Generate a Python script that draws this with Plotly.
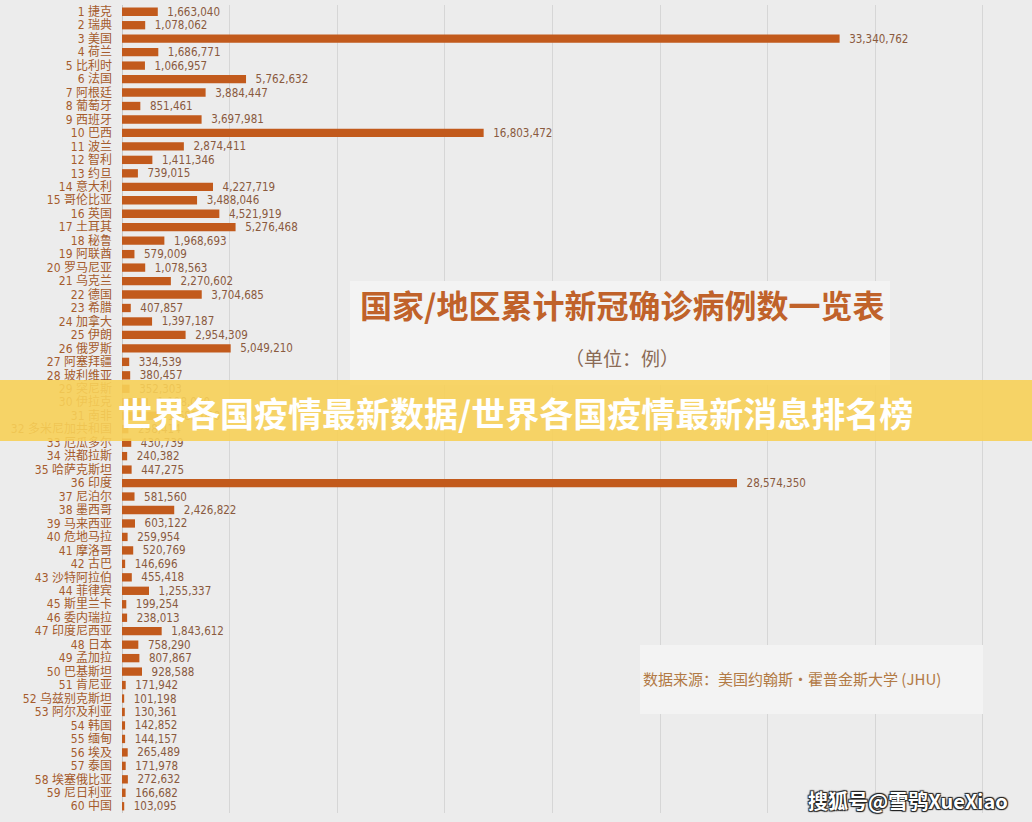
import plotly.graph_objects as go

countries = ["捷克", "瑞典", "美国", "荷兰", "比利时", "法国", "阿根廷", "葡萄牙", "西班牙", "巴西",
             "波兰", "智利", "约旦", "意大利", "哥伦比亚", "英国", "土耳其", "秘鲁", "阿联酋", "罗马尼亚",
             "乌克兰", "德国", "希腊", "加拿大", "伊朗", "俄罗斯", "阿塞拜疆", "玻利维亚", "突尼斯", "伊拉克",
             "南非", "多米尼加共和国", "厄瓜多尔", "洪都拉斯", "哈萨克斯坦", "印度", "尼泊尔", "墨西哥", "马来西亚", "危地马拉",
             "摩洛哥", "古巴", "沙特阿拉伯", "菲律宾", "斯里兰卡", "委内瑞拉", "印度尼西亚", "日本", "孟加拉", "巴基斯坦",
             "肯尼亚", "乌兹别克斯坦", "阿尔及利亚", "韩国", "缅甸", "埃及", "泰国", "埃塞俄比亚", "尼日利亚", "中国"]

cases = [1663040, 1078062, 33340762, 1686771, 1066957, 5762632, 3884447, 851461, 3697981, 16803472,
         2874411, 1411346, 739015, 4227719, 3488046, 4521919, 5276468, 1968693, 579009, 1078563,
         2270602, 3704685, 407857, 1397187, 2954309, 5049210, 334539, 380457, 352303, 1198000,
         1682000, 298414, 430739, 240382, 447275, 28574350, 581560, 2426822, 603122, 259954,
         520769, 146696, 455418, 1255337, 199254, 238013, 1843612, 758290, 807867, 928588,
         171942, 101198, 130361, 142852, 144157, 265489, 171978, 272632, 166682, 103095]

labels = [f"{i + 1} {c}" for i, c in enumerate(countries)]
value_text = [f"{v:,}" for v in cases]

BAR = "#c25a1c"
LABEL = "#a55b2c"
VALUE = "#8a5a3e"
NARROW = "Liberation Sans Narrow, DejaVu Sans Condensed, Noto Sans CJK SC"

fig = go.Figure(go.Bar(
    x=cases, y=labels, orientation="h",
    marker=dict(color=BAR, line=dict(width=0)),
    width=0.62,
    text=value_text, textposition="outside", cliponaxis=False,
    constraintext="none",
    texttemplate="  %{text}",
    textfont=dict(family=NARROW, size=11.5, color=VALUE),
))

fig.update_layout(
    width=1032, height=822,
    margin=dict(l=122, r=0, t=5, b=9),
    paper_bgcolor="#ececec", plot_bgcolor="#ececec",
    showlegend=False,
    xaxis=dict(range=[0, 42280000], dtick=5000000, showticklabels=False,
               showgrid=True, gridcolor="#d6d6d6", gridwidth=1,
               zeroline=True, zerolinecolor="#c8c8c8", zerolinewidth=1, fixedrange=True),
    yaxis=dict(autorange="reversed", type="category", showgrid=False,
               tickmode="array", tickvals=labels, ticktext=labels,
               tickfont=dict(family=NARROW, size=12, color=LABEL),
               ticks="", ticklabelstandoff=9, fixedrange=True),
)

def py(y):
    return (822 - 9 - y) / 808

def px(x):
    return (x - 122) / 910

# title box
fig.add_shape(type="rect", xref="paper", yref="paper",
              x0=px(350), x1=px(890), y0=py(385), y1=py(281),
              fillcolor="#f3f3f3", line=dict(width=0), layer="above")
# source box
fig.add_shape(type="rect", xref="paper", yref="paper",
              x0=px(640), x1=px(983), y0=py(714), y1=py(645),
              fillcolor="#f3f3f3", line=dict(width=0), layer="above")
# banner
fig.add_shape(type="rect", xref="paper", yref="paper",
              x0=px(0), x1=1.0, y0=py(441), y1=py(380),
              fillcolor="rgba(247,208,88,0.9)", line=dict(width=0), layer="above")

fig.add_annotation(text="<b>国家/地区累计新冠确诊病例数一览表</b>", xref="paper", yref="paper",
                   x=px(622), y=py(304), showarrow=False, xanchor="center", yanchor="middle",
                   font=dict(family="Noto Sans CJK SC", size=32, color="#c0622a"))
fig.add_annotation(text="（单位：例）", xref="paper", yref="paper",
                   x=px(622), y=py(357), showarrow=False, xanchor="center", yanchor="middle",
                   font=dict(family="Noto Sans CJK SC", size=19, color="#8a6a55"))
fig.add_annotation(text="数据来源：美国约翰斯·霍普金斯大学 (JHU)", xref="paper", yref="paper",
                   x=px(641), y=py(678), showarrow=False, xanchor="left", yanchor="middle",
                   font=dict(family="Noto Sans CJK SC", size=15, color="#b27a45"))
fig.add_annotation(text="<b>世界各国疫情最新数据/世界各国疫情最新消息排名榜</b>", xref="paper", yref="paper",
                   x=px(116), y=py(412), showarrow=False, xanchor="left", yanchor="middle",
                   font=dict(family="Noto Sans CJK SC", size=34, color="#ffffff"))
fig.add_annotation(text="<b>搜狐号@雪鸮XueXiao</b>", xref="paper", yref="paper",
                   x=px(1010), y=py(800), showarrow=False, xanchor="right", yanchor="middle",
                   font=dict(family="Noto Sans CJK SC", size=20, color="#ffffff",
                             shadow="1px 1px 1px #222, -1px -1px 1px #222, 1px -1px 1px #222, -1px 1px 1px #222"))

fig.write_html("out.html")
